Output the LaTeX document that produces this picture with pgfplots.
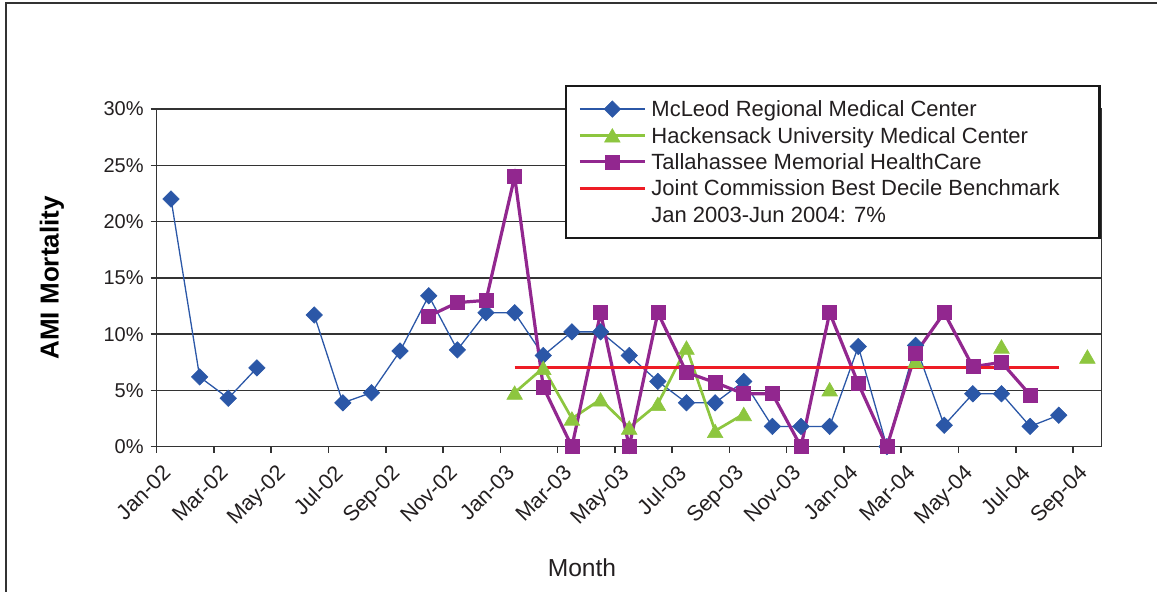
\documentclass[border=0pt]{standalone}
\usepackage{pgfplots}
\pgfplotsset{compat=1.18}
\usepackage{fontspec}
\setmainfont{Liberation Sans}
\definecolor{mcblue}{HTML}{2B57A7}
\definecolor{hkgreen}{HTML}{8DC63F}
\definecolor{tmpurple}{HTML}{92278F}
\definecolor{bmred}{HTML}{EE1C25}
\definecolor{gridc}{HTML}{333333}
\definecolor{txt}{HTML}{231F20}
\begin{document}
\begin{tikzpicture}
\path[use as bounding box] (0,0) rectangle (578.5pt,296pt);
\draw[line width=1.3pt, color=gridc] (3pt,-2pt) -- (3pt,294.5pt) -- (582pt,294.5pt);
\begin{axis}[
  at={(78.35pt,72.65pt)}, anchor=south west,
  scale only axis, width=472.5pt, height=168.85pt,
  xmin=0, xmax=33, ymin=0, ymax=30,
  clip=false,
  xtick={0,2,...,32},
  xticklabels={Jan-02,Mar-02,May-02,Jul-02,Sep-02,Nov-02,Jan-03,Mar-03,May-03,Jul-03,Sep-03,Nov-03,Jan-04,Mar-04,May-04,Jul-04,Sep-04},
  ytick={0,5,...,30},
  yticklabels={0\%,5\%,10\%,15\%,20\%,25\%,30\%},
  xtick pos=bottom, ytick pos=left,
  tick align=outside, major tick length=3pt,
  ymajorgrids, grid style={color=gridc, line width=0.75pt},
  axis line style={color=gridc, line width=0.75pt},
  tick style={color=gridc, line width=0.75pt},
  ticklabel style={font=\fontsize{10}{12}\selectfont, color=txt},
  xticklabel style={rotate=45, anchor=north east, font=\fontsize{10.8}{12}\selectfont, xshift=1.2pt, yshift=-2pt},
  unbounded coords=jump,
  xlabel={Month},
  xlabel style={at={(axis description cs:0.450,-0.383)}, anchor=base, font=\fontsize{12.3}{14}\selectfont, color=txt},
  ylabel={AMI Mortality},
  ylabel style={at={(axis description cs:-0.1108,0.5)}, anchor=center, font=\fontsize{13}{15}\selectfont\bfseries, color=black},
  legend style={at={(0.4321,1.072)}, anchor=north west, draw=black!90, line width=1.2pt, fill=white,
    inner xsep=6pt, inner ysep=5pt, row sep=0pt, cells={anchor=west},
    nodes={inner sep=0pt, text height=10.4pt, text depth=2.8pt, font=\fontsize{11}{13}\selectfont, text=txt},
    /tikz/every odd column/.append style={column sep=2.5pt}},
  legend image code/.code={\draw[mark repeat=2,mark phase=2,#1] plot coordinates {(0pt,0pt) (16.25pt,0pt) (32.5pt,0pt)};},
]
\addplot[color=mcblue, line width=0.65pt, mark=square*, mark size=2.9pt, mark options={rotate=45, fill=mcblue, line width=0.3pt}] table[x=x,y=y] {
x y
0.5 22.0
1.5 6.2
2.5 4.3
3.5 7.0
4.5 nan
5.5 11.7
6.5 3.9
7.5 4.8
8.5 8.5
9.5 13.4
10.5 8.6
11.5 11.9
12.5 11.9
13.5 8.1
14.5 10.2
15.5 10.2
16.5 8.1
17.5 5.8
18.5 3.9
19.5 3.9
20.5 5.8
21.5 1.8
22.5 1.8
23.5 1.8
24.5 8.9
25.5 0
26.5 9.0
27.5 1.9
28.5 4.7
29.5 4.7
30.5 1.8
31.5 2.8
};
\addlegendentry{McLeod Regional Medical Center}
\addplot[color=hkgreen, line width=1.35pt, mark=triangle*, mark size=4.5pt, mark options={fill=hkgreen, line width=0.3pt, yshift=-1.1pt}] table[x=x,y=y] {
x y
12.5 4.8
13.5 7.0
14.5 2.5
15.5 4.2
16.5 1.7
17.5 3.8
18.5 8.8
19.5 1.4
20.5 2.9
21.5 nan
22.5 nan
23.5 5.1
24.5 nan
25.5 nan
26.5 7.6
27.5 nan
28.5 nan
29.5 8.9
30.5 nan
31.5 nan
32.5 8.0
};
\addlegendentry{Hackensack University Medical Center}
\addplot[color=tmpurple, line width=1.6pt, mark=square*, mark size=3.5pt, mark options={fill=tmpurple, line width=0.3pt}] table[x=x,y=y] {
x y
9.5 11.6
10.5 12.8
11.5 13.0
12.5 24.0
13.5 5.3
14.5 0
15.5 11.9
16.5 0
17.5 11.9
18.5 6.6
19.5 5.7
20.5 4.7
21.5 4.7
22.5 0
23.5 11.9
24.5 5.6
25.5 0
26.5 8.3
27.5 11.9
28.5 7.1
29.5 7.5
30.5 4.6
};
\addlegendentry{Tallahassee Memorial HealthCare}
\addplot[color=bmred, line width=1.5pt, mark=none] table[x=x,y=y] {
x y
12.5 7
31.5 7
};
\addlegendentry{\makebox[218pt][l]{Joint Commission Best Decile Benchmark}}
\addlegendimage{empty legend}
\addlegendentry{Jan 2003-Jun 2004: 7\%}
\end{axis}
\end{tikzpicture}
\end{document}
